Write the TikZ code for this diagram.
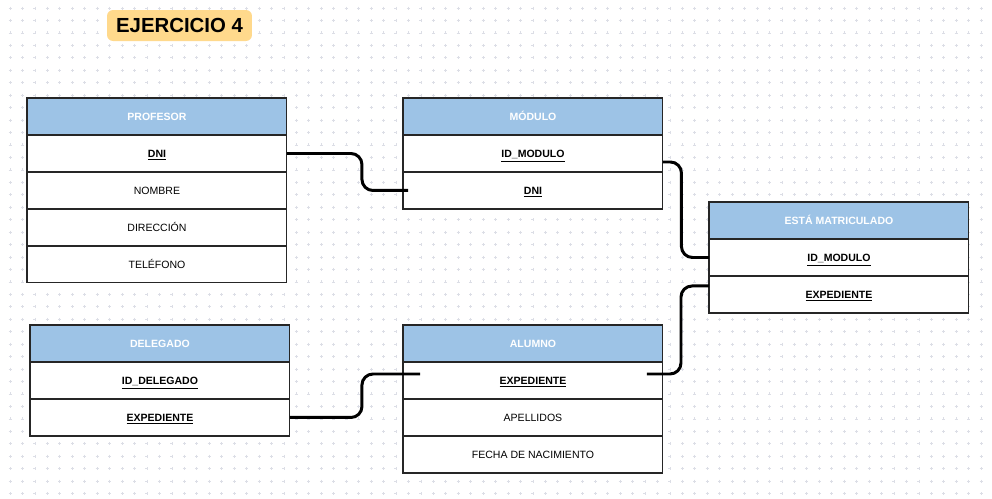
\documentclass[tikz,border=0pt]{standalone}
\usepackage{fontspec}
\setmainfont{Liberation Sans}
\usetikzlibrary{calc}
\definecolor{hdrblue}{HTML}{9DC3E6}
\definecolor{titlebg}{HTML}{FFD98C}
\definecolor{griddot}{HTML}{DCDEE6}
\begin{document}
\begin{tikzpicture}[x=0.02cm,y=-0.02cm,
  hdr/.style={draw=black!85,line width=0.6pt,outer sep=0pt,fill=hdrblue,minimum width=5.2cm,minimum height=0.74cm,inner sep=0pt,text height=4.3pt,text depth=0pt,anchor=north west,text=white,font=\fontsize{6}{7}\selectfont\bfseries},
  cell/.style={draw=black!85,line width=0.6pt,outer sep=0pt,fill=white,minimum width=5.2cm,minimum height=0.74cm,inner sep=0pt,text height=4.3pt,text depth=0pt,anchor=north west,font=\fontsize{6}{7}\selectfont},
  keycell/.style={cell,font=\fontsize{6}{7}\selectfont\bfseries},
  link/.style={line width=1.7pt,rounded corners=0.22cm},
  titlebox/.style={fill=titlebg,rounded corners=0.12cm,minimum width=2.9cm,minimum height=0.62cm,inner sep=0pt,font=\fontsize{11.6}{13}\selectfont\bfseries}]
\useasboundingbox[fill=white] (0,0) rectangle (992,498);
% grid
\foreach \i in {0,...,78}{\foreach \j in {0,...,39}{
  \draw[griddot,line width=0.35pt] (10+12.45*\i-1.5,8+12.45*\j) -- ++(3,0) (10+12.45*\i,8+12.45*\j-1.5) -- ++(0,3);}}
% title
\node[titlebox] (title) at (179.5,25.5) {EJERCICIO 4};
% PROFESOR
\node[hdr] (prof) at (27,98) {PROFESOR};
\node[keycell] (profDNI) at (prof.south west) {\underline{DNI}};
\node[cell] (profNom) at (profDNI.south west) {NOMBRE};
\node[cell] (profDir) at (profNom.south west) {DIRECCIÓN};
\node[cell] (profTel) at (profDir.south west) {TELÉFONO};
% MODULO
\node[hdr] (mod) at (403,98) {MÓDULO};
\node[keycell] (modID) at (mod.south west) {\underline{ID\_MODULO}};
\node[keycell] (modDNI) at (modID.south west) {\underline{DNI}};
% ESTA MATRICULADO
\node[hdr] (em) at (709,202) {ESTÁ MATRICULADO};
\node[keycell] (emID) at (em.south west) {\underline{ID\_MODULO}};
\node[keycell] (emEXP) at (emID.south west) {\underline{EXPEDIENTE}};
% DELEGADO
\node[hdr] (del) at (30,325) {DELEGADO};
\node[keycell] (delID) at (del.south west) {\underline{ID\_DELEGADO}};
\node[keycell] (delEXP) at (delID.south west) {\underline{EXPEDIENTE}};
% ALUMNO
\node[hdr] (al) at (403,325) {ALUMNO};
\node[keycell] (alEXP) at (al.south west) {\underline{EXPEDIENTE}};
\node[cell] (alApe) at (alEXP.south west) {APELLIDOS};
\node[cell] (alFec) at (alApe.south west) {FECHA DE NACIMIENTO};
% connectors
\draw[link] (profDNI.east) -- ++(75,0) |- ($(modDNI.west)+(5,0)$);
\draw[link] ($(modID.east)+(0,8.5)$) -- ++(18.5,0) |- (emID.west);
\draw[link] ($(emEXP.west)+(0,-8.5)$) -- ++(-28,0) |- ($(alEXP.east)+(-16,-6.5)$);
\draw[link] (delEXP.east) -- ++(72,0) |- ($(alEXP.west)+(17,-6.5)$);
\end{tikzpicture}
\end{document}
